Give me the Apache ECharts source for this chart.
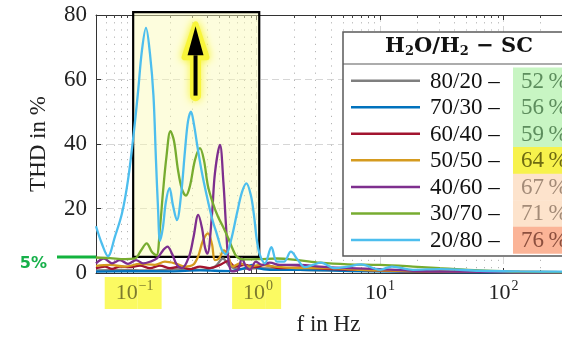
<!DOCTYPE html>
<html>
<head>
<meta charset="utf-8">
<script src="https://cdn.jsdelivr.net/npm/echarts@6/dist/echarts.min.js"></script>
<style>
  html, body { margin: 0; padding: 0; background: #fff; }
  #chart { width: 562px; height: 337px; }
</style>
</head>
<body>
<div id="chart"></div>
<script>
// --- data (f in Hz, THD in %) ---
const seriesNames = ['80/20', '70/30', '60/40', '50/50', '40/60', '30/70', '20/80'];
const scPercent = [52, 56, 59, 64, 67, 71, 76];

const freq8020 = [0.05, 0.0782, 0.1368, 0.2393, 0.3475, 0.4596, 0.5334, 0.6076, 0.7326, 1.063, 2.242, 5.694, 36.7, 1000];
const thd8020  = [0.8, 1, 0.8, 1.2, 1, 2, 4.5, 2, 1.2, 1.5, 1, 0.8, 0.4, 0.2];

const freq7030 = [0.05, 0.0942, 0.1986, 0.3475, 0.6076, 0.8039, 0.916, 1.0245, 1.281, 2.242, 5.694, 36.7, 1000];
const thd7030  = [0.4, 0.6, 0.5, 0.8, 0.6, 1.5, 2.5, 1.5, 1, 1, 0.6, 0.3, 0.2];

const freq6040 = [0.05, 0.0591, 0.0674, 0.0782, 0.0942, 0.1135, 0.1368, 0.1648, 0.1986, 0.2393, 0.2884, 0.3475, 0.4186,
                  0.5045, 0.5856, 0.6672, 0.8039, 0.9687, 1.167, 1.544, 2.242, 3.923, 6.862, 14.47, 36.7, 1000];
const thd6040  = [1.5, 2, 1.3, 2, 1.8, 2.3, 1.5, 2.3, 1.5, 2, 1.2, 2, 1.5,
                  2.5, 3.7, 2, 2.5, 1.8, 2.5, 1.5, 1.7, 1.2, 1, 0.6, 0.4, 0.2];

const freq5050 = [0.05, 0.0649, 0.0858, 0.1135, 0.1501, 0.1809, 0.2181, 0.2627, 0.3049, 0.3347, 0.3674, 0.4033, 0.4346,
                  0.4596, 0.4951, 0.5434, 0.5856, 0.6428, 0.7326, 0.8824, 1.063, 1.407, 2.242, 3.923, 6.862, 14.47, 36.7, 1000];
const thd5050  = [2.2, 2.5, 2, 2.8, 2.5, 3.5, 3, 2, 2.5, 5, 10, 12.3, 9,
                  4, 4.5, 7, 5.5, 2, 3, 2, 2.5, 2, 1.5, 1.5, 1, 0.7, 0.4, 0.2];

const freq4060 = [0.05, 0.058, 0.0674, 0.0782, 0.0908, 0.1054, 0.1201, 0.1368, 0.1559, 0.1743, 0.1895, 0.2062, 0.2263,
                  0.2484, 0.283, 0.3078, 0.3366, 0.3606, 0.3814, 0.3995, 0.4346, 0.4596, 0.5045, 0.5384, 0.5642, 0.5911,
                  0.631, 0.7058, 0.7603, 0.819, 0.8824, 0.987, 1.104, 1.281, 1.544, 2.242, 3.256, 5.694, 9.96, 18.43, 36.7, 1000];
const thd4060  = [3, 4.5, 3, 4, 2.8, 4, 3, 3.5, 4.5, 7, 8.2, 6, 2.5,
                  1.5, 5, 11, 18, 14, 8, 6, 18, 31, 39.7, 28, 15, 4,
                  0.5, 1, 4.5, 2, 1, 3.5, 2.5, 3.2, 2.5, 2.5, 2, 1.5, 1.2, 0.7, 0.4, 0.2];

const freq3070 = [0.05, 0.0649, 0.0858, 0.1034, 0.1157, 0.1286, 0.142, 0.1544, 0.1648, 0.1743, 0.186, 0.2004, 0.214,
                  0.2306, 0.2484, 0.2676, 0.2884, 0.3166, 0.3475, 0.3743, 0.4033, 0.4428, 0.486, 0.5334, 0.5856, 0.631,
                  0.6928, 0.8039, 1.063, 1.46, 2.16, 3.256, 5.487, 9.96, 18.43, 30.5, 64.3, 135, 1000];
const thd3070  = [4.8, 4.6, 4.3, 4.5, 7, 9.2, 6.5, 5.5, 14, 25, 36, 44, 41,
                  32, 26, 24, 27, 35, 38.7, 35, 27, 21.6, 17.5, 14.4, 11, 8,
                  5, 4.2, 4.3, 4.5, 4, 3.2, 2.7, 2.5, 2, 1.5, 0.8, 0.4, 0.2];

const freq2080 = [0.05, 0.0559, 0.0625, 0.0712, 0.0812, 0.0908, 0.1015, 0.1094, 0.1178, 0.127, 0.1368, 0.146, 0.153,
                  0.159, 0.165, 0.174, 0.184, 0.197, 0.21, 0.226, 0.244, 0.263, 0.278, 0.294, 0.311, 0.329,
                  0.361, 0.396, 0.435, 0.477, 0.524, 0.564, 0.619, 0.693, 0.76, 0.827, 0.899, 0.951, 1.006,
                  1.063, 1.167, 1.318, 1.46, 1.664, 1.895, 2.16, 2.461, 2.857, 3.316, 4.305, 5.487, 6.99,
                  9.96, 12.46, 18.43, 30.5, 64.3, 135, 297, 1000];
const thd2080  = [14.5, 9, 5.2, 11.3, 18.5, 28.8, 44, 56, 69, 76, 68, 55, 35,
                  20, 10, 14, 22, 26.3, 21, 16.4, 24, 38, 47, 50, 46, 40,
                  31, 23.7, 17, 12, 7, 5.8, 10, 18.5, 25, 27.8, 24, 18, 10,
                  5.6, 3, 8, 3.5, 3.5, 6.6, 4, 1.8, 2.5, 3.2, 1.5, 2, 2.7,
                  1, 2, 1, 1.2, 0.7, 0.5, 0.4, 0.3];

const freqs = [freq8020, freq7030, freq6040, freq5050, freq4060, freq3070, freq2080];
const thds  = [thd8020, thd7030, thd6040, thd5050, thd4060, thd3070, thd2080];

// axis ticks
const xTickExponents = [-1, 0, 1, 2, 3];
const yTicks = [0, 20, 40, 60, 80];
const fMin = 0.05, fMax = 1000;
const thdLimit = 5;

// --- styles ---
const colors = ['#7f7f7f', '#0072bd', '#a2142f', '#d59b1f', '#7e2f8e', '#77ac30', '#4dbeee'];
const bandColors = ['#c8f5c3', '#c8f5c3', '#c8f5c3', '#f7f24c', '#fde3cc', '#fde3cc', '#fbb497'];
const pctColors = ['#5d8d5d', '#5d8d5d', '#5d8d5d', '#6e6a12', '#a38b78', '#a38b78', '#8c4f3e'];
const serif = 'Liberation Serif';
const ink = '#222';
const hlYellow = '#fbfa62';

const minorLog = [];
for (let d = -2; d <= 2; d++) {
  for (let k = 2; k <= 9; k++) {
    const v = Math.log10(k * Math.pow(10, d));
    if (v > Math.log10(fMin) && v < Math.log10(fMax)) minorLog.push(v);
  }
}

const chart = echarts.init(document.getElementById('chart'), null, { renderer: 'canvas' });

const xMin = Math.log10(fMin), xMax = Math.log10(fMax);

const supText = e => (e < 0 ? '\u2212' + (-e) : String(e));

const series = seriesNames.map((name, i) => ({
  name: name,
  type: 'line',
  xAxisIndex: 0,
  yAxisIndex: 0,
  data: freqs[i].map((f, j) => [Math.log10(f), thds[i][j]]),
  showSymbol: false,
  smooth: 0.35,
  clip: true,
  z: 3 + i,
  lineStyle: { color: colors[i], width: 2.3 },
  itemStyle: { color: colors[i] },
  silent: true
}));

const option = {
  animation: false,
  backgroundColor: '#fff',
  grid: { left: 96, top: 15, right: -65, bottom: 64, outerBoundsMode: 'none' },
  xAxis: [
    {
      // main bottom axis: decades
      type: 'value', min: xMin, max: xMax, position: 'bottom',
      name: 'f in Hz', nameLocation: 'middle', nameGap: 40, nameMoveOverlap: false,
      nameTextStyle: { fontFamily: serif, fontSize: 23, color: ink, padding: [0, 66, 0, 0] },
      axisLine: { show: true, onZero: false, lineStyle: { color: '#333', width: 1 } },
      axisTick: { show: true, inside: true, length: 5, customValues: xTickExponents, lineStyle: { color: '#333' } },
      axisLabel: {
        customValues: xTickExponents.slice(0, 4),
        margin: 4,
        formatter: v => {
          const e = Math.round(v);
          return (e <= 0) ? '{hb|10}{hs|' + supText(e) + '}' : '{b|10}{s|' + supText(e) + '}';
        },
        rich: {
          b:  { fontFamily: serif, fontSize: 22, color: ink, padding: [5, 0, 5, 0] },
          s:  { fontFamily: serif, fontSize: 14, color: ink, padding: [2, 0, 16, 1] },
          hb: { fontFamily: serif, fontSize: 22, color: '#7d7a2e', backgroundColor: hlYellow, padding: [5, 0, 5, 11] },
          hs: { fontFamily: serif, fontSize: 14, color: '#7d7a2e', backgroundColor: hlYellow, padding: [2, 8, 16, 1] }
        }
      },
      splitLine: { show: true, lineStyle: { color: '#d6d6d6', width: 1, type: [7, 4] } }
    },
    {
      // minor log grid
      type: 'value', min: xMin, max: xMax, position: 'bottom',
      axisLine: { show: false },
      axisTick: { show: true, inside: true, length: 3, customValues: minorLog, lineStyle: { color: '#444' } },
      axisLabel: { show: false },
      splitLine: { show: true, lineStyle: { color: '#b5b5b5', width: 1, type: [1.2, 6] } }
    },
    {
      type: 'value', min: xMin, max: xMax, position: 'top',
      axisLine: { show: true, onZero: false, lineStyle: { color: '#333', width: 1 } },
      axisTick: { show: true, inside: true, length: 5, customValues: xTickExponents, lineStyle: { color: '#333' } },
      axisLabel: { show: false },
      splitLine: { show: false }
    },
    {
      type: 'value', min: xMin, max: xMax, position: 'top',
      axisLine: { show: false },
      axisTick: { show: true, inside: true, length: 3, customValues: minorLog, lineStyle: { color: '#444' } },
      axisLabel: { show: false },
      splitLine: { show: false }
    }
  ],
  yAxis: [
    {
      type: 'value', min: 0, max: 80, interval: 20,
      name: 'THD in %', nameLocation: 'middle', nameGap: 46, nameRotate: 90, nameMoveOverlap: false,
      nameTextStyle: { fontFamily: serif, fontSize: 23, color: ink },
      axisLine: { show: true, onZero: false, lineStyle: { color: '#333', width: 1 } },
      axisTick: { show: true, inside: true, length: 5, customValues: yTicks, lineStyle: { color: '#333' } },
      axisLabel: { customValues: yTicks, margin: 9, fontFamily: serif, fontSize: 23, color: ink },
      splitLine: { show: true, lineStyle: { color: '#d6d6d6', width: 1, type: [7, 4] } }
    }
  ],
  series: series
};

chart.setOption(option);

// --- annotations placed in data coordinates ---
const toPx = (f, v) => chart.convertToPixel({ xAxisIndex: 0, yAxisIndex: 0 }, [Math.log10(f), v]);

const boxA = toPx(0.1, 80.9);
const boxB = toPx(1.05, thdLimit);
const arrowTip = toPx(0.32, 76.5);
const arrowBase = toPx(0.32, 67.5);
const arrowTail = toPx(0.32, 55);
const limitPt = toPx(fMin, thdLimit);

const glow = '#f8f53a';
const legendX = 343, legendY = 32, rowY0 = 80.7, rowStep = 26.55;
const legendChildren = [
  { type: 'rect', z: 30, shape: { x: legendX, y: legendY, width: 260, height: 224 },
    style: { fill: '#fff', stroke: '#5a5a5a', lineWidth: 1.5 } },
  { type: 'line', z: 31, shape: { x1: legendX, y1: 64, x2: 610, y2: 64 }, style: { stroke: '#5a5a5a', lineWidth: 1.2 } },
  { type: 'text', z: 32, x: 459, y: 47,
    style: {
      text: '{t|H}{u|2}{t|O/H}{u|2}{t| \u2212 SC}',
      align: 'center', verticalAlign: 'middle',
      rich: {
        t: { fontFamily: 'DejaVu Serif', fontWeight: 'bold', fontSize: 21, fill: '#111' },
        u: { fontFamily: 'DejaVu Serif', fontWeight: 'bold', fontSize: 13, fill: '#111', padding: [10, 0, 0, 0] }
      }
    } }
];
seriesNames.forEach((name, i) => {
  const y = rowY0 + i * rowStep;
  legendChildren.push(
    { type: 'rect', z: 31, shape: { x: 513, y: y - rowStep / 2, width: 60, height: rowStep + 0.5 }, style: { fill: bandColors[i] } },
    { type: 'line', z: 32, shape: { x1: 351, y1: y, x2: 420, y2: y }, style: { stroke: colors[i], lineWidth: 2.5 } },
    { type: 'text', z: 32, x: 430, y: y + 1,
      style: { text: name + ' \u2013', font: '23px "' + serif + '"', fill: '#111', verticalAlign: 'middle' } },
    { type: 'text', z: 32, x: 521, y: y + 1,
      style: { text: scPercent[i] + '\u2009%', font: '23px "' + serif + '"', fill: pctColors[i], verticalAlign: 'middle' } }
  );
});

chart.setOption({
  graphic: [
    { type: 'rect', z: 1, silent: true,
      shape: { x: boxA[0], y: boxA[1], width: boxB[0] - boxA[0], height: boxB[1] - boxA[1] },
      style: { fill: 'rgba(251,250,180,0.45)', stroke: '#000', lineWidth: 2.2 } },
    // arrow with yellow glow
    { type: 'line', z: 20, silent: true,
      shape: { x1: arrowTail[0], y1: arrowTail[1], x2: arrowBase[0], y2: arrowBase[1] },
      style: { stroke: glow, lineWidth: 11, lineCap: 'round', shadowBlur: 8, shadowColor: glow } },
    { type: 'polygon', z: 20, silent: true,
      shape: { points: [[arrowTip[0], arrowTip[1] - 2], [arrowBase[0] - 11, arrowBase[1] + 2], [arrowBase[0] + 11, arrowBase[1] + 2]] },
      style: { fill: glow, stroke: glow, lineWidth: 6, lineJoin: 'round', shadowBlur: 8, shadowColor: glow } },
    { type: 'line', z: 21, silent: true,
      shape: { x1: arrowTail[0], y1: arrowTail[1], x2: arrowBase[0], y2: arrowBase[1] },
      style: { stroke: '#000', lineWidth: 4 } },
    { type: 'polygon', z: 21, silent: true,
      shape: { points: [[arrowTip[0], arrowTip[1]], [arrowBase[0] - 8, arrowBase[1]], [arrowBase[0] + 8, arrowBase[1]]] },
      style: { fill: '#000' } },
    // 5 % limit marker left of the axis
    { type: 'line', z: 20, silent: true,
      shape: { x1: 57, y1: limitPt[1], x2: limitPt[0], y2: limitPt[1] },
      style: { stroke: '#12b33e', lineWidth: 3 } },
    { type: 'text', z: 20, silent: true, x: 47, y: limitPt[1] + 7,
      style: { text: thdLimit + '%', font: 'bold 16px "DejaVu Sans"', fill: '#16b04a', align: 'right', verticalAlign: 'middle' } },
    { type: 'group', z: 30, silent: true, children: legendChildren }
  ]
});
</script>
</body>
</html>
